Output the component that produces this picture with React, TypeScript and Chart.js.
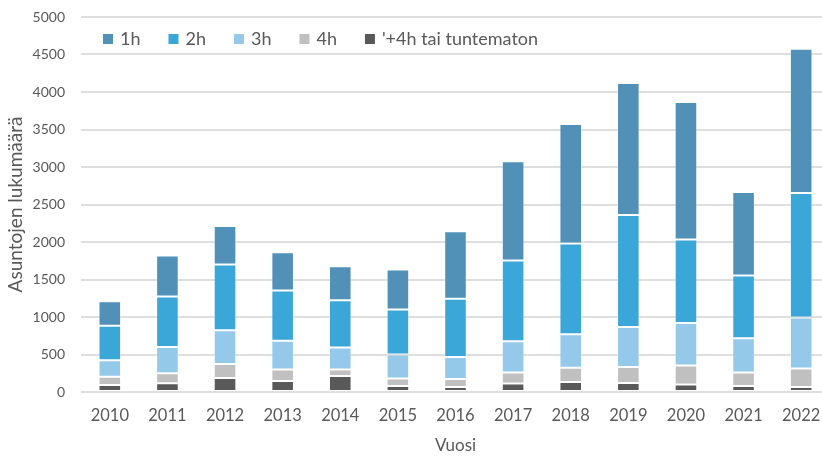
import React, { useEffect, useRef } from "react";
import { Chart, registerables } from "chart.js";

Chart.register(...registerables);

const years = ["2010", "2011", "2012", "2013", "2014", "2015", "2016", "2017", "2018", "2019", "2020", "2021", "2022"];
const seriesLabels = ["1h", "2h", "3h", "4h", "'+4h tai tuntematon"];
const h1 = [324, 547, 514, 511, 453, 533, 898, 1324, 1595, 1760, 1835, 1116, 1921];
const h2 = [462, 672, 876, 667, 631, 600, 778, 1076, 1210, 1493, 1112, 836, 1663];
const h3 = [218, 351, 450, 386, 293, 320, 294, 417, 444, 534, 568, 457, 680];
const h4 = [112, 133, 186, 152, 86, 99, 106, 147, 192, 213, 253, 179, 245];
const h4plus = [93, 116, 187, 147, 213, 80, 67, 112, 133, 120, 99, 80, 67];
const colors = ["#5190b7", "#3ba7d8", "#94c9ea", "#bfc0bf", "#595959"];
const yTicks = [0, 500, 1000, 1500, 2000, 2500, 3000, 3500, 4000, 4500, 5000];

const FONT = "Lato, 'Open Sans', sans-serif";
const TEXT = "#595959";

const insideLegend = {
  id: "insideLegend",
  afterDatasetsDraw(chart: any) {
    const ctx = chart.ctx as CanvasRenderingContext2D;
    const area = chart.chartArea;
    ctx.save();
    ctx.font = `18px ${FONT}`;
    ctx.textBaseline = "middle";
    ctx.textAlign = "left";
    let x = area.left + 22;
    const y = area.top + 22;
    const box = 10;
    seriesLabels.forEach((label, i) => {
      ctx.fillStyle = colors[i];
      ctx.fillRect(x, y - box / 2, box, box);
      x += box + 7;
      ctx.fillStyle = TEXT;
      ctx.fillText(label, x, y);
      x += ctx.measureText(label).width + 28;
    });
    ctx.restore();
  },
};

export default function App() {
  const ref = useRef<HTMLCanvasElement | null>(null);
  useEffect(() => {
    if (!ref.current) return;
    const values = [h1, h2, h3, h4, h4plus];
    const datasets = values
      .map((data, i) => ({
        label: seriesLabels[i],
        data,
        backgroundColor: colors[i],
        borderColor: "rgba(255,255,255,0.3)",
        borderWidth: 1,
        borderSkipped: false as any,
        categoryPercentage: 0.8,
        barPercentage: 0.49,
      }))
      .reverse();
    const chart = new Chart(ref.current, {
      type: "bar",
      data: { labels: years, datasets },
      options: {
        responsive: false,
        animation: false,
        devicePixelRatio: 1,
        layout: { padding: { top: 17, left: 0, right: 0, bottom: 0 } },
        plugins: { legend: { display: false }, tooltip: { enabled: false } },
        scales: {
          x: {
            stacked: true,
            grid: { display: false, drawTicks: false },
            border: { display: false },
            ticks: { color: TEXT, font: { family: FONT, size: 16.5 }, padding: 14, maxRotation: 0 },
            title: { display: true, text: "Vuosi", color: TEXT, font: { family: FONT, size: 17 }, padding: { top: 0, bottom: 0 } },
            afterFit: (s: any) => { s.height = 64; s.paddingLeft = 0; s.paddingRight = 0; },
          },
          y: {
            stacked: true,
            min: 0,
            max: 5000,
            afterBuildTicks: (s: any) => { s.ticks = yTicks.map((v) => ({ value: v })); },
            grid: { color: "#dedede", lineWidth: 2, drawTicks: false },
            border: { display: false },
            ticks: { color: TEXT, font: { family: FONT, size: 14 }, padding: 16, callback: (v: any) => String(v) },
            title: { display: true, text: "Asuntojen lukumäärä", color: TEXT, font: { family: FONT, size: 19 }, padding: { top: 4, bottom: 0 } },
            afterFit: (s: any) => { s.width = 81; s.paddingTop = 0; s.paddingBottom = 0; },
          },
        },
      },
      plugins: [insideLegend],
    });
    return () => chart.destroy();
  }, []);
  return (
    <div style={{ position: "fixed", left: 0, top: 0, width: 822, height: 456, overflow: "hidden", background: "#fff" }}>
      <canvas ref={ref} width={830} height={456} style={{ display: "block", width: 830, height: 456 }} />
    </div>
  );
}
